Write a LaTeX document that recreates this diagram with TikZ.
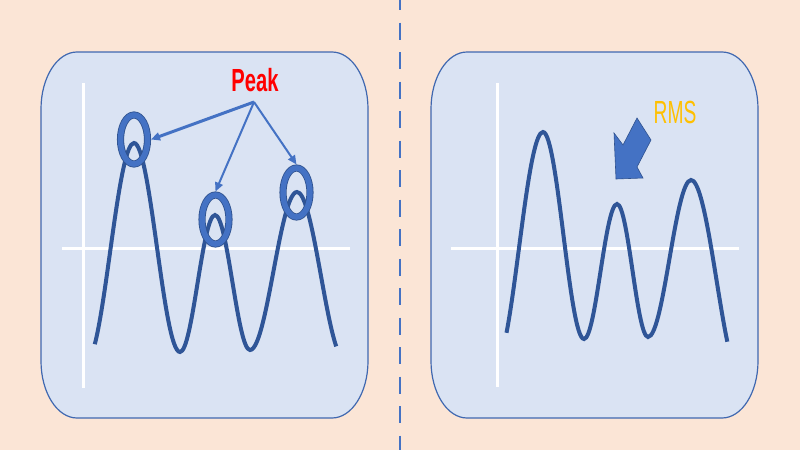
\documentclass[tikz,border=0pt]{standalone}
\usepackage{fontspec}
\setmainfont{Liberation Sans}
\usepackage{tikz}
\usetikzlibrary{shapes.geometric}
\usetikzlibrary{arrows.meta}
\definecolor{bgpeach}{HTML}{FBE5D6}
\definecolor{panelfill}{HTML}{DAE3F3}
\definecolor{panelline}{HTML}{4068B0}
\definecolor{waveblue}{HTML}{2F5597}
\definecolor{ringblue}{HTML}{4472C4}
\definecolor{ringdark}{HTML}{2F528F}
\definecolor{peakred}{HTML}{FF0000}
\definecolor{rmsgold}{HTML}{FFC000}
\tikzstyle{panel}=[fill=panelfill, draw=panelline, line width=1.2pt]
\tikzstyle{axis}=[draw=white, line width=3pt]
\tikzstyle{wave}=[draw=waveblue, line width=4pt]
\tikzstyle{ring}=[ellipse, draw=ringdark, double=ringblue, line width=0.8pt, double distance=5.5pt,
	minimum width=27pt, minimum height=49pt, inner sep=0pt, outer sep=3.5pt]
\tikzstyle{peakarrow}=[draw=ringblue, -{Triangle[length=9pt,width=8pt]}]

\begin{document}
\begin{tikzpicture}[x=1pt,y=-1pt]
\useasboundingbox (0,0) rectangle (800,450);
\fill[bgpeach] (0,0) rectangle (800,450);
\draw[ringblue, line width=2pt, dash pattern=on 17pt off 12.5pt] (400,-7) -- (400,450);

% the two panels
\foreach \px in {41,431} {
	\draw[panel] (\px+36,52) -- (\px+291,52) arc[start angle=-90,end angle=0,x radius=36,y radius=57]
		-- (\px+327,361) arc[start angle=0,end angle=90,x radius=36,y radius=57]
		-- (\px+36,418) arc[start angle=90,end angle=180,x radius=36,y radius=57]
		-- (\px,109) arc[start angle=180,end angle=270,x radius=36,y radius=57] -- cycle;
}
\draw[axis] (83,83) -- (83,388);
\draw[axis] (62,248) -- (350,248);
\draw[axis] (497,83) -- (497,387);
\draw[axis] (451,248) -- (739,248);

% left wave
\coordinate (a0) at (94.8,344.2);
\coordinate (a1) at (134,143);
\coordinate (a2) at (180,352);
\coordinate (a3) at (215,215);
\coordinate (a4) at (250,350);
\coordinate (a5) at (297,192);
\coordinate (a6) at (336.2,346.4);
\draw[wave] (a0) .. controls (108.2,292.1) and (119.6,143) .. (a1)
	.. controls +(16.8,0) and +(-16.8,0) .. (a2)
	.. controls +(12.7,0) and +(-12.7,0) .. (a3)
	.. controls +(12.7,0) and +(-12.7,0) .. (a4)
	.. controls +(17.1,0) and +(-17.1,0) .. (a5)
	.. controls (311.4,192) and (322.8,306.3) .. (a6);

% right wave
\coordinate (b0) at (506.5,332.8);
\coordinate (b1) at (543,132);
\coordinate (b2) at (584,339);
\coordinate (b3) at (617,204);
\coordinate (b4) at (648,337);
\coordinate (b5) at (691,180);
\coordinate (b6) at (727.3,341.7);
\draw[wave] (b0) .. controls (518.7,269.5) and (529.5,132) .. (b1)
	.. controls +(14.9,0) and +(-14.9,0) .. (b2)
	.. controls +(12,0) and +(-12,0) .. (b3)
	.. controls +(11.3,0) and +(-11.3,0) .. (b4)
	.. controls +(15.7,0) and +(-15.7,0) .. (b5)
	.. controls (704.4,180) and (715.3,283.7) .. (b6);

% peaks
\node[ring] (ring1) at (134,139.5) {};
\node[ring] (ring2) at (215.5,219.5) {};
\node[ring] (ring3) at (296.5,192.5) {};
\node[anchor=base, inner sep=0pt, xscale=0.63, text=peakred, font=\fontsize{32}{32}\selectfont\bfseries] (peak) at (255,91.7) {Peak};
\coordinate (fork) at (254,102);
\draw[peakarrow, line width=3pt] (fork) -- (ring1.east);
\draw[peakarrow, line width=2pt] (fork) -- (ring2.north);
\draw[peakarrow, line width=2pt] (fork) -- (ring3.north);

% rms
\node[anchor=base, inner sep=0pt, xscale=0.6, text=rmsgold, font=\fontsize{32}{32}\selectfont] (rms) at (675,123.3) {RMS};
\filldraw[fill=ringblue, draw=ringdark, line width=0.6pt] (616,179) -- (614,133) -- (623,145) -- (637,118)
	-- (651,140) -- (637,167) -- (643,178) -- cycle;
\end{tikzpicture}
\end{document}
